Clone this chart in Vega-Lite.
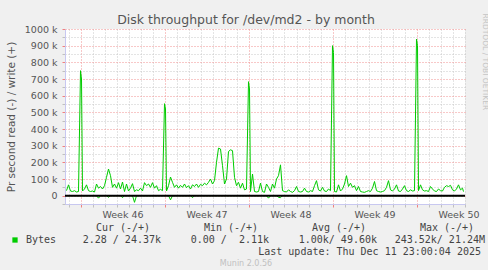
{
  "$schema": "https://vega.github.io/schema/vega-lite/v6.json",
  "background": "#f0f0f0",
  "padding": {"left": 6, "top": 13, "right": 0, "bottom": 0},
  "config": {"font": "DejaVu Sans", "view": {"stroke": null}},
  "spacing": 3,
  "vconcat": [
    {
      "width": 400,
      "height": 175,
      "view": {"fill": "#ffffff", "stroke": null},
      "title": {"text": "Disk throughput for /dev/md2 - by month", "font": "DejaVu Sans", "fontSize": 12.5, "fontWeight": "normal", "color": "#555555", "anchor": "middle", "dx": -19, "offset": -13},
      "data": {"values": [
        {"t":"2025-11-08T20:00","write":30000,"read":0},
        {"t":"2025-11-09T00:00","write":65000,"read":0},
        {"t":"2025-11-09T04:00","write":28000,"read":0},
        {"t":"2025-11-09T08:00","write":25000,"read":0},
        {"t":"2025-11-09T12:00","write":30000,"read":0},
        {"t":"2025-11-09T16:00","write":22000,"read":0},
        {"t":"2025-11-09T20:00","write":25000,"read":0},
        {"t":"2025-11-10T00:00","write":750000,"read":0},
        {"t":"2025-11-10T02:00","write":700000,"read":0},
        {"t":"2025-11-10T04:00","write":28000,"read":0},
        {"t":"2025-11-10T08:00","write":40000,"read":0},
        {"t":"2025-11-10T12:00","write":65000,"read":0},
        {"t":"2025-11-10T16:00","write":30000,"read":0},
        {"t":"2025-11-10T20:00","write":25000,"read":0},
        {"t":"2025-11-11T00:00","write":28000,"read":0},
        {"t":"2025-11-11T04:00","write":22000,"read":0},
        {"t":"2025-11-11T08:00","write":70000,"read":0},
        {"t":"2025-11-11T12:00","write":45000,"read":-15000},
        {"t":"2025-11-11T16:00","write":55000,"read":0},
        {"t":"2025-11-11T20:00","write":40000,"read":0},
        {"t":"2025-11-12T00:00","write":60000,"read":0},
        {"t":"2025-11-12T04:00","write":110000,"read":0},
        {"t":"2025-11-12T08:00","write":160000,"read":-10000},
        {"t":"2025-11-12T12:00","write":120000,"read":0},
        {"t":"2025-11-12T16:00","write":50000,"read":0},
        {"t":"2025-11-12T20:00","write":70000,"read":0},
        {"t":"2025-11-13T00:00","write":45000,"read":0},
        {"t":"2025-11-13T04:00","write":78000,"read":0},
        {"t":"2025-11-13T08:00","write":40000,"read":0},
        {"t":"2025-11-13T12:00","write":82000,"read":-12000},
        {"t":"2025-11-13T16:00","write":25000,"read":0},
        {"t":"2025-11-13T20:00","write":70000,"read":0},
        {"t":"2025-11-14T00:00","write":28000,"read":0},
        {"t":"2025-11-14T04:00","write":45000,"read":0},
        {"t":"2025-11-14T08:00","write":72000,"read":0},
        {"t":"2025-11-14T12:00","write":25000,"read":-40000},
        {"t":"2025-11-14T16:00","write":35000,"read":0},
        {"t":"2025-11-14T20:00","write":30000,"read":0},
        {"t":"2025-11-15T00:00","write":45000,"read":0},
        {"t":"2025-11-15T04:00","write":28000,"read":0},
        {"t":"2025-11-15T08:00","write":78000,"read":0},
        {"t":"2025-11-15T12:00","write":60000,"read":0},
        {"t":"2025-11-15T16:00","write":70000,"read":0},
        {"t":"2025-11-15T20:00","write":50000,"read":0},
        {"t":"2025-11-16T00:00","write":78000,"read":0},
        {"t":"2025-11-16T04:00","write":45000,"read":0},
        {"t":"2025-11-16T08:00","write":60000,"read":0},
        {"t":"2025-11-16T12:00","write":30000,"read":0},
        {"t":"2025-11-16T16:00","write":38000,"read":0},
        {"t":"2025-11-16T20:00","write":30000,"read":0},
        {"t":"2025-11-17T00:00","write":552000,"read":0},
        {"t":"2025-11-17T02:00","write":520000,"read":0},
        {"t":"2025-11-17T04:00","write":28000,"read":0},
        {"t":"2025-11-17T08:00","write":60000,"read":0},
        {"t":"2025-11-17T12:00","write":112000,"read":-25000},
        {"t":"2025-11-17T16:00","write":80000,"read":0},
        {"t":"2025-11-17T20:00","write":50000,"read":0},
        {"t":"2025-11-18T00:00","write":65000,"read":0},
        {"t":"2025-11-18T04:00","write":45000,"read":0},
        {"t":"2025-11-18T08:00","write":62000,"read":0},
        {"t":"2025-11-18T12:00","write":50000,"read":0},
        {"t":"2025-11-18T16:00","write":70000,"read":0},
        {"t":"2025-11-18T20:00","write":48000,"read":0},
        {"t":"2025-11-19T00:00","write":60000,"read":0},
        {"t":"2025-11-19T04:00","write":40000,"read":0},
        {"t":"2025-11-19T08:00","write":65000,"read":-12000},
        {"t":"2025-11-19T12:00","write":55000,"read":0},
        {"t":"2025-11-19T16:00","write":70000,"read":0},
        {"t":"2025-11-19T20:00","write":50000,"read":0},
        {"t":"2025-11-20T00:00","write":68000,"read":0},
        {"t":"2025-11-20T04:00","write":60000,"read":0},
        {"t":"2025-11-20T08:00","write":75000,"read":0},
        {"t":"2025-11-20T12:00","write":65000,"read":0},
        {"t":"2025-11-20T16:00","write":80000,"read":0},
        {"t":"2025-11-20T20:00","write":100000,"read":0},
        {"t":"2025-11-21T00:00","write":70000,"read":0},
        {"t":"2025-11-21T04:00","write":90000,"read":0},
        {"t":"2025-11-21T08:00","write":200000,"read":0},
        {"t":"2025-11-21T12:00","write":285000,"read":0},
        {"t":"2025-11-21T16:00","write":280000,"read":0},
        {"t":"2025-11-21T20:00","write":180000,"read":0},
        {"t":"2025-11-22T00:00","write":70000,"read":0},
        {"t":"2025-11-22T04:00","write":100000,"read":0},
        {"t":"2025-11-22T08:00","write":265000,"read":0},
        {"t":"2025-11-22T12:00","write":275000,"read":0},
        {"t":"2025-11-22T16:00","write":270000,"read":0},
        {"t":"2025-11-22T20:00","write":110000,"read":0},
        {"t":"2025-11-23T00:00","write":60000,"read":0},
        {"t":"2025-11-23T04:00","write":80000,"read":0},
        {"t":"2025-11-23T08:00","write":45000,"read":0},
        {"t":"2025-11-23T12:00","write":75000,"read":0},
        {"t":"2025-11-23T16:00","write":35000,"read":0},
        {"t":"2025-11-23T20:00","write":40000,"read":0},
        {"t":"2025-11-24T00:00","write":684000,"read":0},
        {"t":"2025-11-24T02:00","write":640000,"read":0},
        {"t":"2025-11-24T04:00","write":25000,"read":0},
        {"t":"2025-11-24T08:00","write":130000,"read":0},
        {"t":"2025-11-24T12:00","write":25000,"read":0},
        {"t":"2025-11-24T16:00","write":22000,"read":0},
        {"t":"2025-11-24T20:00","write":25000,"read":0},
        {"t":"2025-11-25T00:00","write":75000,"read":0},
        {"t":"2025-11-25T04:00","write":25000,"read":0},
        {"t":"2025-11-25T08:00","write":20000,"read":0},
        {"t":"2025-11-25T12:00","write":70000,"read":0},
        {"t":"2025-11-25T16:00","write":50000,"read":-15000},
        {"t":"2025-11-25T20:00","write":25000,"read":0},
        {"t":"2025-11-26T00:00","write":70000,"read":0},
        {"t":"2025-11-26T04:00","write":45000,"read":0},
        {"t":"2025-11-26T08:00","write":100000,"read":0},
        {"t":"2025-11-26T12:00","write":120000,"read":-10000},
        {"t":"2025-11-26T16:00","write":185000,"read":-12000},
        {"t":"2025-11-26T20:00","write":30000,"read":0},
        {"t":"2025-11-27T00:00","write":25000,"read":0},
        {"t":"2025-11-27T04:00","write":22000,"read":0},
        {"t":"2025-11-27T08:00","write":35000,"read":0},
        {"t":"2025-11-27T12:00","write":25000,"read":0},
        {"t":"2025-11-27T16:00","write":20000,"read":0},
        {"t":"2025-11-27T20:00","write":30000,"read":0},
        {"t":"2025-11-28T00:00","write":55000,"read":0},
        {"t":"2025-11-28T04:00","write":25000,"read":0},
        {"t":"2025-11-28T08:00","write":22000,"read":0},
        {"t":"2025-11-28T12:00","write":25000,"read":0},
        {"t":"2025-11-28T16:00","write":45000,"read":0},
        {"t":"2025-11-28T20:00","write":25000,"read":0},
        {"t":"2025-11-29T00:00","write":22000,"read":0},
        {"t":"2025-11-29T04:00","write":30000,"read":0},
        {"t":"2025-11-29T08:00","write":25000,"read":0},
        {"t":"2025-11-29T12:00","write":60000,"read":0},
        {"t":"2025-11-29T16:00","write":90000,"read":0},
        {"t":"2025-11-29T20:00","write":35000,"read":0},
        {"t":"2025-11-30T00:00","write":28000,"read":0},
        {"t":"2025-11-30T04:00","write":50000,"read":0},
        {"t":"2025-11-30T08:00","write":28000,"read":0},
        {"t":"2025-11-30T12:00","write":25000,"read":0},
        {"t":"2025-11-30T16:00","write":40000,"read":0},
        {"t":"2025-11-30T20:00","write":30000,"read":0},
        {"t":"2025-12-01T00:00","write":900000,"read":0},
        {"t":"2025-12-01T02:00","write":860000,"read":0},
        {"t":"2025-12-01T04:00","write":25000,"read":0},
        {"t":"2025-12-01T08:00","write":22000,"read":0},
        {"t":"2025-12-01T12:00","write":65000,"read":0},
        {"t":"2025-12-01T16:00","write":28000,"read":0},
        {"t":"2025-12-01T20:00","write":40000,"read":0},
        {"t":"2025-12-02T00:00","write":70000,"read":0},
        {"t":"2025-12-02T04:00","write":120000,"read":0},
        {"t":"2025-12-02T08:00","write":55000,"read":0},
        {"t":"2025-12-02T12:00","write":75000,"read":0},
        {"t":"2025-12-02T16:00","write":50000,"read":0},
        {"t":"2025-12-02T20:00","write":60000,"read":0},
        {"t":"2025-12-03T00:00","write":30000,"read":0},
        {"t":"2025-12-03T04:00","write":55000,"read":0},
        {"t":"2025-12-03T08:00","write":25000,"read":0},
        {"t":"2025-12-03T12:00","write":22000,"read":0},
        {"t":"2025-12-03T16:00","write":20000,"read":0},
        {"t":"2025-12-03T20:00","write":25000,"read":0},
        {"t":"2025-12-04T00:00","write":30000,"read":0},
        {"t":"2025-12-04T04:00","write":25000,"read":0},
        {"t":"2025-12-04T08:00","write":45000,"read":0},
        {"t":"2025-12-04T12:00","write":85000,"read":0},
        {"t":"2025-12-04T16:00","write":30000,"read":0},
        {"t":"2025-12-04T20:00","write":25000,"read":0},
        {"t":"2025-12-05T00:00","write":22000,"read":0},
        {"t":"2025-12-05T04:00","write":25000,"read":0},
        {"t":"2025-12-05T08:00","write":30000,"read":0},
        {"t":"2025-12-05T12:00","write":50000,"read":0},
        {"t":"2025-12-05T16:00","write":90000,"read":0},
        {"t":"2025-12-05T20:00","write":35000,"read":0},
        {"t":"2025-12-06T00:00","write":28000,"read":0},
        {"t":"2025-12-06T04:00","write":40000,"read":0},
        {"t":"2025-12-06T08:00","write":65000,"read":0},
        {"t":"2025-12-06T12:00","write":28000,"read":0},
        {"t":"2025-12-06T16:00","write":25000,"read":0},
        {"t":"2025-12-06T20:00","write":40000,"read":0},
        {"t":"2025-12-07T00:00","write":60000,"read":0},
        {"t":"2025-12-07T04:00","write":30000,"read":0},
        {"t":"2025-12-07T08:00","write":25000,"read":0},
        {"t":"2025-12-07T12:00","write":35000,"read":0},
        {"t":"2025-12-07T16:00","write":28000,"read":0},
        {"t":"2025-12-07T20:00","write":30000,"read":0},
        {"t":"2025-12-08T00:00","write":940000,"read":0},
        {"t":"2025-12-08T02:00","write":900000,"read":0},
        {"t":"2025-12-08T04:00","write":30000,"read":0},
        {"t":"2025-12-08T08:00","write":65000,"read":0},
        {"t":"2025-12-08T12:00","write":35000,"read":0},
        {"t":"2025-12-08T16:00","write":28000,"read":0},
        {"t":"2025-12-08T20:00","write":30000,"read":0},
        {"t":"2025-12-09T00:00","write":25000,"read":0},
        {"t":"2025-12-09T04:00","write":55000,"read":0},
        {"t":"2025-12-09T08:00","write":40000,"read":0},
        {"t":"2025-12-09T12:00","write":28000,"read":0},
        {"t":"2025-12-09T16:00","write":25000,"read":0},
        {"t":"2025-12-09T20:00","write":40000,"read":0},
        {"t":"2025-12-10T00:00","write":30000,"read":0},
        {"t":"2025-12-10T04:00","write":28000,"read":0},
        {"t":"2025-12-10T08:00","write":50000,"read":0},
        {"t":"2025-12-10T12:00","write":60000,"read":0},
        {"t":"2025-12-10T16:00","write":55000,"read":0},
        {"t":"2025-12-10T20:00","write":62000,"read":0},
        {"t":"2025-12-11T00:00","write":35000,"read":0},
        {"t":"2025-12-11T04:00","write":28000,"read":0},
        {"t":"2025-12-11T08:00","write":40000,"read":0},
        {"t":"2025-12-11T12:00","write":65000,"read":0},
        {"t":"2025-12-11T16:00","write":35000,"read":0},
        {"t":"2025-12-11T20:00","write":45000,"read":0},
        {"t":"2025-12-11T22:00","write":24370,"read":-2}
      ]},
      "layer": [
        {
          "mark": {"type": "line", "color": "#00cc00", "strokeWidth": 1, "clip": true},
          "encoding": {
            "x": {"field": "t", "type": "temporal", "title": null,
              "scale": {"domain": [{"year": 2025, "month": 11, "date": 8, "hours": 17}, {"year": 2025, "month": 12, "date": 12, "hours": 1}], "nice": false},
              "axis": {"title": null, "tickCount": {"interval": "day", "step": 1},
                "grid": true, "gridDash": [1, 2], "gridWidth": 1,
                "gridColor": {"condition": {"test": "day(datum.value) == 1", "value": "#f09090"}, "value": "#c8c8c8"},
                "ticks": true, "tickSize": 3,
                "tickColor": {"condition": {"test": "day(datum.value) == 1", "value": "#f08080"}, "value": "#c0c0c0"},
                "domainColor": "#c8c8f0",
                "labelExpr": "day(datum.value) == 4 ? 'Week ' + timeFormat(datum.value, '%V') : ''",
                "labelOffset": 6, "labelOverlap": false, "labelBound": false, "labelFlush": false,
                "labelFont": "DejaVu Sans", "labelFontSize": 9.5, "labelColor": "#555555", "labelPadding": 2}},
            "y": {"field": "write", "type": "quantitative",
              "scale": {"domain": [-50000, 1000000], "nice": false, "zero": false},
              "axis": {"values": [-50000, 0, 50000, 100000, 150000, 200000, 250000, 300000, 350000, 400000, 450000, 500000, 550000, 600000, 650000, 700000, 750000, 800000, 850000, 900000, 950000, 1000000],
                "title": "Pr second read (-) / write (+)", "titleFont": "DejaVu Sans", "titleFontSize": 10.5, "titleFontWeight": "normal", "titleColor": "#555555", "titlePadding": 8,
                "labelExpr": "datum.value == 0 ? '0' : (datum.value > 0 && datum.value % 100000 == 0 ? (datum.value / 1000) + ' k' : '')",
                "labelFont": "DejaVu Sans", "labelFontSize": 9.5, "labelColor": "#555555", "labelPadding": 5,
                "grid": true, "gridDash": [1, 2], "gridWidth": 1,
                "gridColor": {"condition": {"test": "datum.value % 100000 == 0", "value": "#f09090"}, "value": "#c8c8c8"},
                "ticks": true, "tickSize": 3,
                "tickColor": {"condition": {"test": "datum.value % 100000 == 0", "value": "#f08080"}, "value": "#c0c0c0"},
                "domainColor": "#c8c8f0"}}
          }
        },
        {
          "mark": {"type": "line", "color": "#00cc00", "strokeWidth": 1, "clip": true},
          "encoding": {
            "x": {"field": "t", "type": "temporal", "title": null},
            "y": {"field": "read", "type": "quantitative", "scale": {"domain": [-50000, 1000000], "nice": false, "zero": false}, "axis": null}
          }
        },
        {
          "data": {"values": [{}]},
          "mark": {"type": "rule", "color": "#000000", "strokeWidth": 2},
          "encoding": {
            "y": {"datum": 0, "type": "quantitative", "scale": {"domain": [-50000, 1000000], "nice": false, "zero": false},
              "axis": {"orient": "right", "domain": false, "ticks": false, "labels": false, "grid": false,
                "title": "RRDTOOL / TOBI OETIKER", "titleFont": "DejaVu Sans", "titleFontSize": 7.5, "titleFontWeight": "normal", "titleColor": "#c4c4c4",
                "titleAngle": 90, "titleX": 19, "titleY": -16, "titleAlign": "left", "titleBaseline": "middle"}}
          }
        }
      ],
      "resolve": {"axis": {"y": "independent"}}
    },
    {
      "width": 400,
      "height": 48,
      "data": {"values": [
        {"stat": "Cur (-/+)", "value": "2.28 / 24.37k"},
        {"stat": "Min (-/+)", "value": "0.00 /\u00a0 2.11k"},
        {"stat": "Avg (-/+)", "value": "1.00k/ 49.60k"},
        {"stat": "Max (-/+)", "value": "243.52k/ 21.24M"}
      ]},
      "layer": [
        {
          "mark": {"type": "text", "font": "DejaVu Sans Mono", "fontSize": 10, "color": "#444444", "align": "center", "baseline": "middle"},
          "encoding": {
            "x": {"field": "stat", "type": "nominal", "scale": {"type": "point", "domain": ["Bytes", "Cur (-/+)", "Min (-/+)", "Avg (-/+)", "Max (-/+)"], "range": [-50, 382], "padding": 0}, "axis": null},
            "y": {"datum": "head", "type": "nominal", "scale": {"type": "point", "domain": ["head", "Bytes", "update", "munin"]}, "axis": null},
            "text": {"field": "stat"}
          }
        },
        {
          "mark": {"type": "text", "font": "DejaVu Sans Mono", "fontSize": 10, "color": "#444444", "align": "right", "baseline": "middle", "dx": 38},
          "encoding": {
            "x": {"field": "stat", "type": "nominal", "axis": null},
            "y": {"datum": "Bytes", "type": "nominal", "axis": null},
            "text": {"field": "value"}
          }
        },
        {
          "data": {"values": [{"series": "Bytes"}]},
          "mark": {"type": "text", "font": "DejaVu Sans Mono", "fontSize": 10, "color": "#444444", "align": "left", "baseline": "middle", "dx": 11},
          "encoding": {
            "x": {"field": "series", "type": "nominal", "axis": null},
            "y": {"datum": "Bytes", "type": "nominal", "axis": null},
            "text": {"field": "series"}
          }
        },
        {
          "data": {"values": [{"series": "Bytes"}]},
          "mark": {"type": "square", "filled": true, "size": 28, "opacity": 1},
          "encoding": {
            "x": {"field": "series", "type": "nominal", "axis": null},
            "y": {"datum": "Bytes", "type": "nominal", "axis": null},
            "color": {"field": "series", "type": "nominal", "scale": {"domain": ["Bytes"], "range": ["#00cc00"]}, "legend": null}
          }
        },
        {
          "data": {"values": [{"label": "Last update: Thu Dec 11 23:00:04 2025"}]},
          "mark": {"type": "text", "font": "DejaVu Sans Mono", "fontSize": 10, "color": "#444444", "align": "right", "baseline": "middle", "dx": 34},
          "encoding": {
            "x": {"datum": "Max (-/+)", "type": "nominal", "axis": null},
            "y": {"datum": "update", "type": "nominal", "axis": null},
            "text": {"field": "label"}
          }
        },
        {
          "data": {"values": [{"label": "Munin 2.0.56"}]},
          "mark": {"type": "text", "font": "DejaVu Sans", "fontSize": 8, "color": "#c0c0c0", "align": "center", "baseline": "middle", "dx": 15},
          "encoding": {
            "x": {"datum": "Min (-/+)", "type": "nominal", "axis": null},
            "y": {"datum": "munin", "type": "nominal", "axis": null},
            "text": {"field": "label"}
          }
        }
      ]
    }
  ]
}
